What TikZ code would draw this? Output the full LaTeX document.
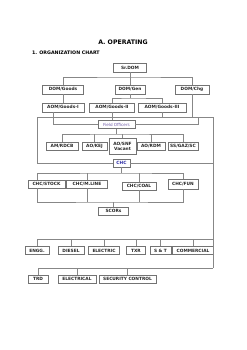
\documentclass[tikz,border=0pt]{standalone}
\usepackage{fontspec}
\setmainfont{DejaVu Sans}
\usepackage{tikz}
\usetikzlibrary{positioning}
\definecolor{linegray}{RGB}{135,135,135}
\definecolor{boxgray}{RGB}{115,115,115}
\definecolor{fieldpurple}{RGB}{115,95,170}
\definecolor{chcblue}{RGB}{45,45,165}
\tikzset{
    orgbox/.style={
        draw=boxgray,
        line width=1pt,
        fill=white,
        font=\fontsize{10.5}{11}\selectfont\bfseries,
        text=black!85,
        inner xsep=1pt,
        inner ysep=0pt,
        minimum height=8*0.85mm
    },
    % box width in pixels of the page
    boxw/.style={minimum width=#1*0.85mm},
    tallbox/.style={minimum height=9*0.85mm},
    link/.style={
        line width=1.1pt,
        linegray
    }
}

\begin{document}
\begin{tikzpicture}[x=0.85mm, y=-0.85mm]
            \useasboundingbox (0,0) rectangle (247,350);

            % titles
            \node[inner sep=0pt] (title) at (123,42) {\fontsize{15}{18}\selectfont\bfseries A. OPERATING};
            \node[inner sep=0pt, anchor=west] (chart) at (32,53) {\fontsize{11.5}{14}\selectfont\bfseries 1. ORGANIZATION CHART};

            % DOM levels
            \node[orgbox, tallbox, boxw=33] (srdom) at (130,67.5) {Sr.DOM};
            \node[orgbox, tallbox, boxw=41] (domgoods) at (63,89.5) {DOM/Goods};
            \node[orgbox, tallbox, boxw=30] (domgen) at (130,89.5) {DOM/Gen};
            \node[orgbox, tallbox, boxw=34] (domchg) at (192,89.5) {DOM/Chg};

            \node[orgbox, tallbox, boxw=42] (aomi) at (63,107.5) {AOM/Goods-I};
            \node[orgbox, tallbox, boxw=45] (aomii) at (112,107.5) {AOM/Goods-II};
            \node[orgbox, tallbox, boxw=48] (aomiii) at (162,107.5) {AOM/Goods-III};

            % field officers
            \node[orgbox, boxw=37, font=\fontsize{10}{11}\selectfont, text=fieldpurple] (field) at (116.5,124.5) {Field Officers};
            \node[orgbox, boxw=32] (amrdcb) at (62,146) {AM/RDCB};
            \node[orgbox, boxw=25] (aokej) at (94.5,146) {AO/KEJ};
            \node[orgbox, boxw=27, minimum height=16*0.85mm, align=center, font=\fontsize{10.5}{12}\selectfont\bfseries] (aosnf) at (122.5,146) {AO/SNF\\Vacant};
            \node[orgbox, boxw=28] (aordm) at (151,146) {AO/RDM};
            \node[orgbox, boxw=30] (ssgaz) at (183,146) {SS/GAZ/SC};

            % CHC
            \node[orgbox, boxw=17, text=chcblue] (chc) at (121.5,163) {CHC};
            \node[orgbox, boxw=37] (stock) at (46.5,184) {CHC/STOCK};
            \node[orgbox, boxw=41] (mline) at (87,184) {CHC/M.LINE};
            \node[orgbox, boxw=34] (coal) at (139,186) {CHC/COAL};
            \node[orgbox, boxw=30, minimum height=10*0.85mm] (fun) at (183,184) {CHC/FUN};
            \node[orgbox, boxw=30] (scors) at (113.5,211) {SCORs};

            % departments
            \node[orgbox, boxw=24] (engg) at (37,250.5) {ENGG.};
            \node[orgbox, boxw=26] (diesel) at (71,250.5) {DIESEL};
            \node[orgbox, boxw=31] (electric) at (104,250.5) {ELECTRIC};
            \node[orgbox, boxw=19] (txr) at (136,250.5) {TXR};
            \node[orgbox, boxw=21] (snt) at (160.5,250.5) {S \& T};
            \node[orgbox, boxw=41] (commercial) at (193,250.5) {COMMERCIAL};

            \node[orgbox, boxw=20] (trd) at (38,279) {TRD};
            \node[orgbox, boxw=38] (electrical) at (77,279) {ELECTRICAL};
            \node[orgbox, boxw=57] (security) at (127.5,279) {SECURITY CONTROL};

            % bus points
            \coordinate (bus0) at (130,77);
            \coordinate (bus1) at (130,98);
            \coordinate (frl) at (37,117);
            \coordinate (frr) at (213,117);
            \coordinate (join) at (198,117);
            \coordinate (bus2) at (116.5,134);
            \coordinate (bus3) at (121.5,173);
            \coordinate (bus6) at (113.5,202);
            \coordinate (bus4) at (213,239);
            \coordinate (bus5) at (213,268);

            % DOM links
            \draw[link] (srdom.south) -- (domgen.north);
            \draw[link] (domgoods.north) |- (bus0) -| (domchg.north);
            \draw[link] (domgoods.south) -- (aomi.north);
            \draw[link] (domgen.south) -- (bus1);
            \draw[link] (aomii.north) |- (bus1) -| (aomiii.north);

            % frame
            \draw[link] (chc.west) -| (frl) -- (frr) |- (chc.east);
            \draw[link] (frr) -- (bus5);

            % to field officers
            \draw[link] ([xshift=-8.5mm]aomi.south) |- (field.west);
            \draw[link] (aomii.south) -- (aomii.south |- field.north);
            \draw[link] (aomiii.south) -- (aomiii.south |- join);
            \draw[link] (domchg.south) -- (domchg.south |- join);
            \draw[link] (join) |- (field.east);

            \draw[link] (field.south) -- (bus2);
            \draw[link] (amrdcb.north) |- (bus2) -| (ssgaz.north);
            \foreach \n in {aokej,aosnf,aordm}
                \draw[link] (\n.north) -- (\n.north |- bus2);

            % CHC links
            \draw[link] (chc.south) -- (bus3);
            \draw[link] ([xshift=7.65mm]stock.north west) |- (bus3) -| (fun.north);
            \draw[link] ([xshift=7.65mm]stock.south west) |- (bus6) -| (fun.south);
            \foreach \n in {mline,coal}{
                \draw[link] (\n.north) -- (\n.north |- bus3);
                \draw[link] (\n.south) -- (\n.south |- bus6);
            }
            \draw[link] (scors.north) -- (bus6);

            % departments links
            \draw[link] (engg.north) |- (bus4);
            \foreach \n in {diesel,electric,txr,snt,commercial}
                \draw[link] (\n.north) -- (\n.north |- bus4);
            \draw[link] (trd.north) |- (bus5);
            \foreach \n in {electrical,security}
                \draw[link] (\n.north) -- (\n.north |- bus5);

        \end{tikzpicture}
\end{document}
